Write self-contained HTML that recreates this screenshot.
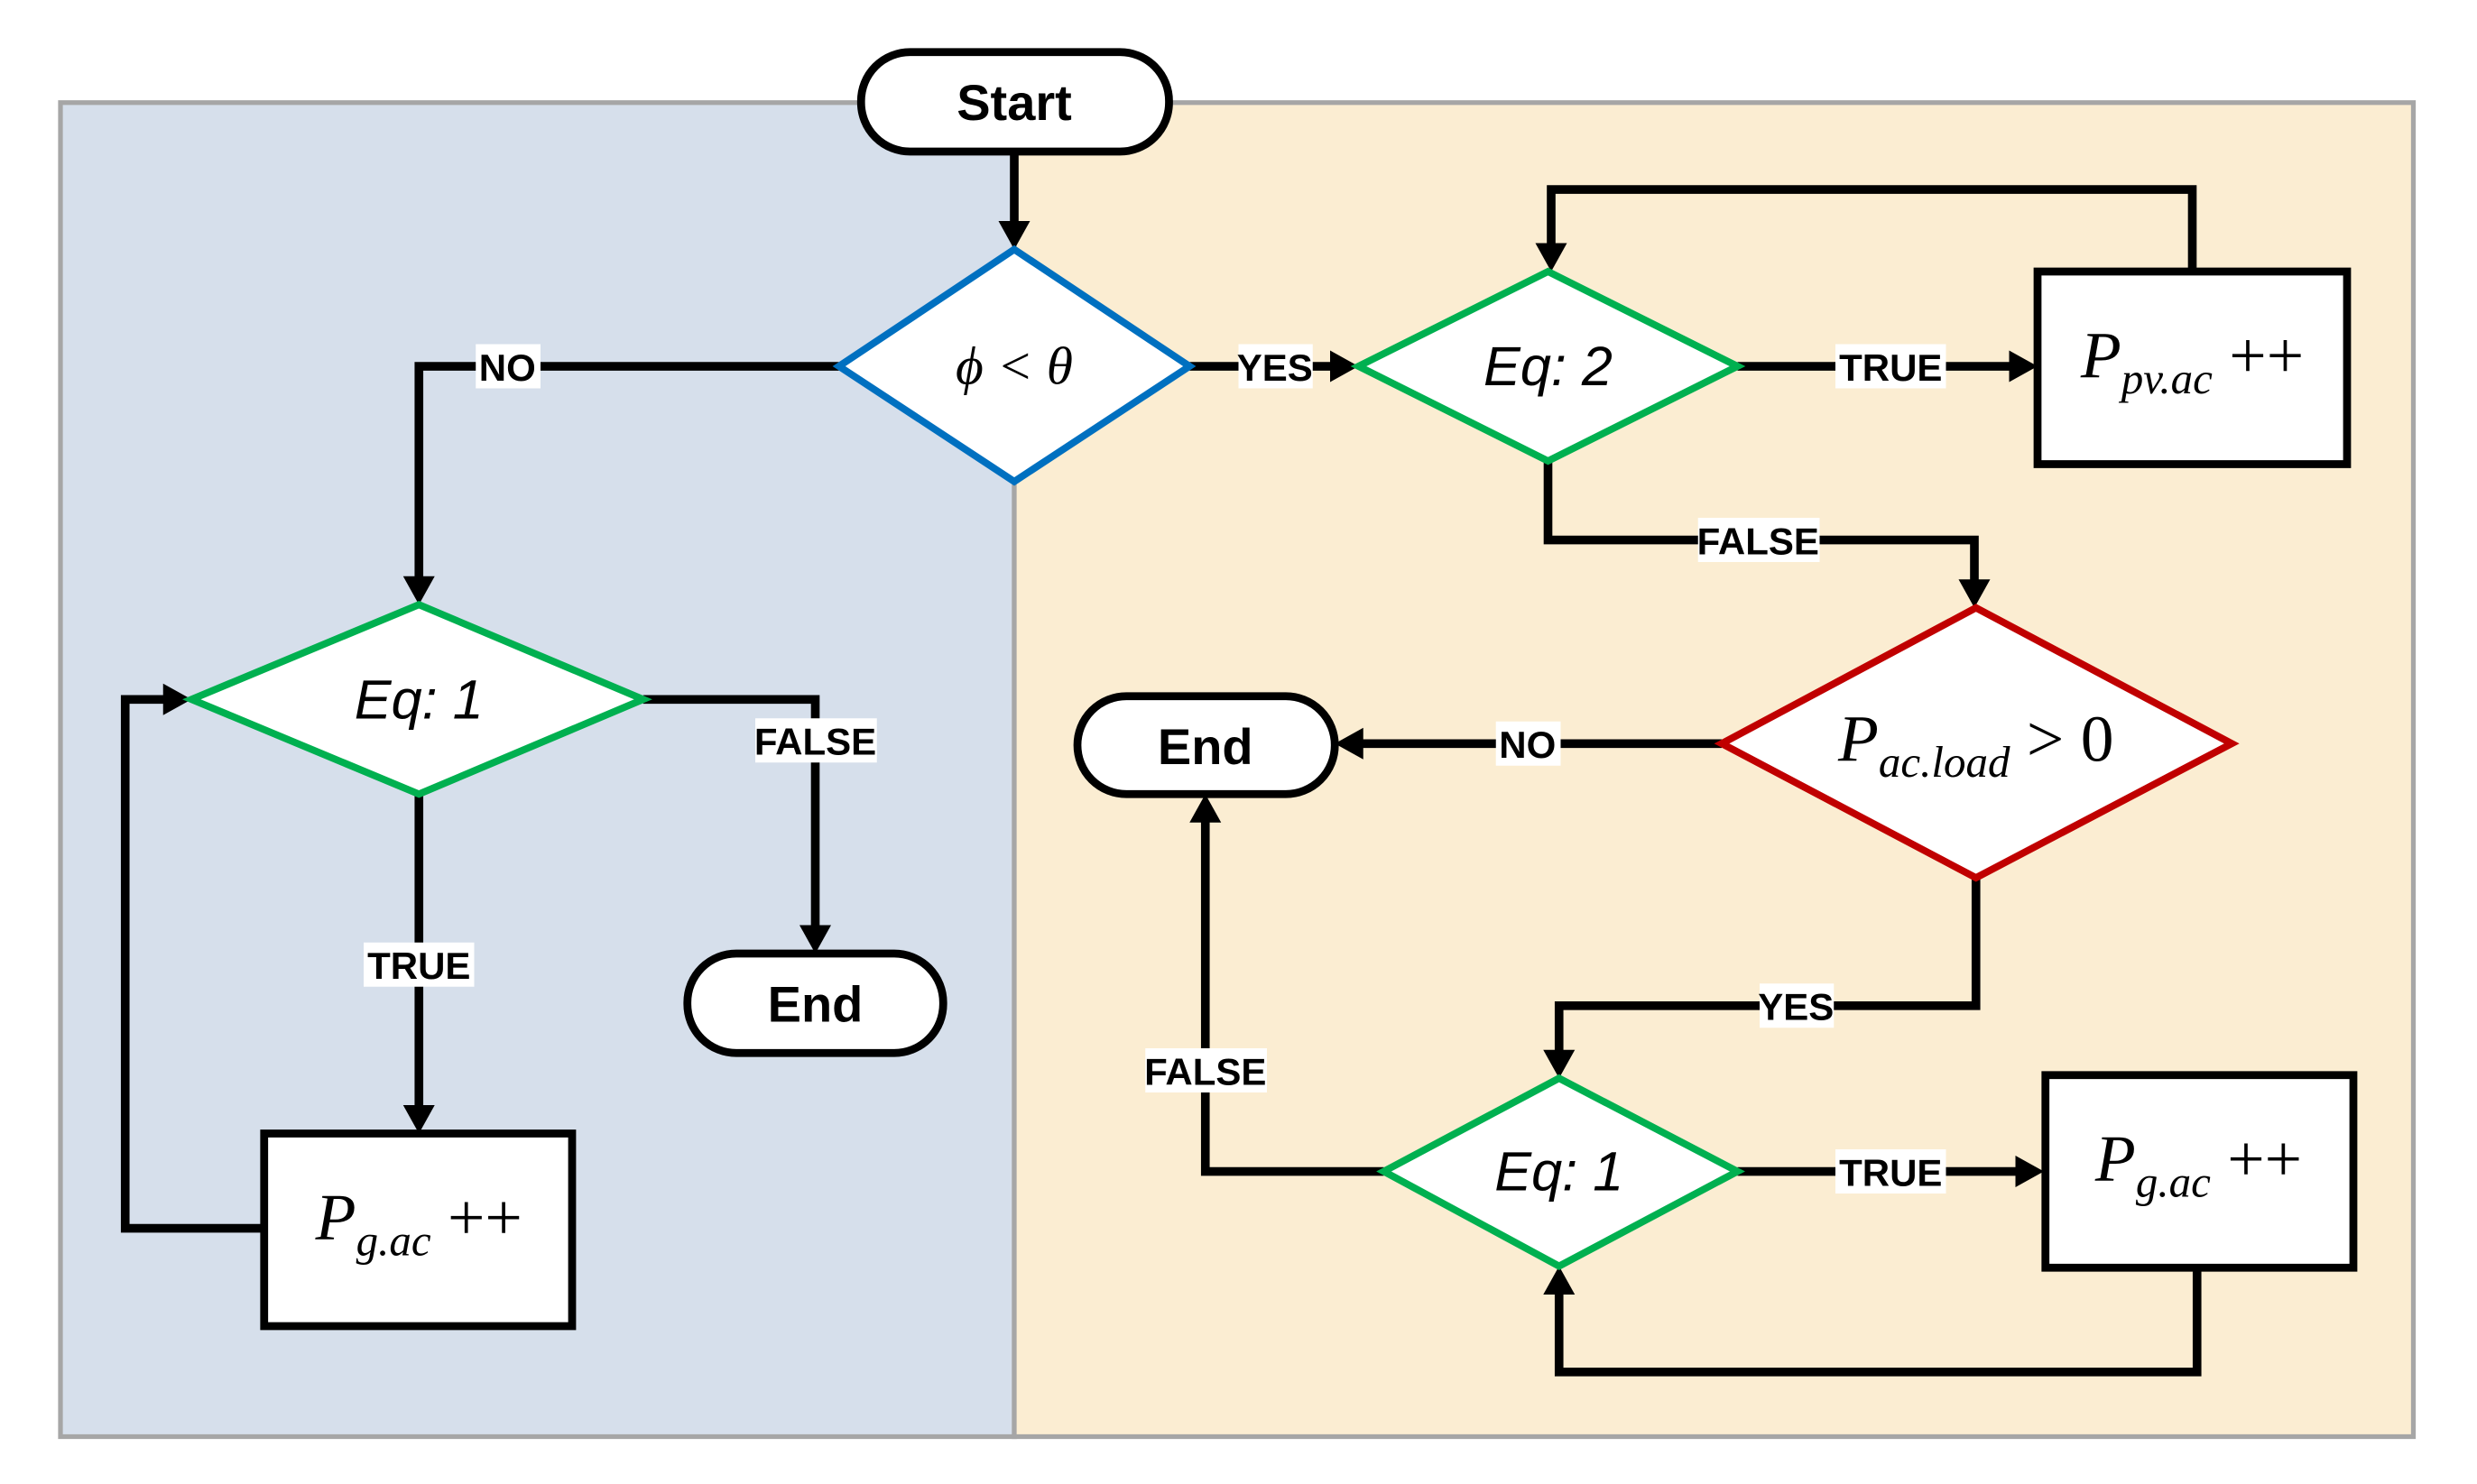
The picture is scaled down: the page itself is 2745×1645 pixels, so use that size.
<!DOCTYPE html>
<html><head><meta charset="utf-8"><style>
html,body{margin:0;padding:0;background:#fff;}
svg{display:block;}
.lbl{font-family:"Liberation Sans",sans-serif;font-weight:bold;font-size:24px;fill:#000;}
.term{font-family:"Liberation Sans",sans-serif;font-weight:bold;font-size:32px;fill:#000;}
.math{font-family:"Liberation Serif",serif;font-style:italic;fill:#000;}
</style></head><body>
<svg width="2745" height="1645" viewBox="0 0 1568 940" xmlns="http://www.w3.org/2000/svg">
<rect x="38" y="65" width="604" height="845" fill="#d6dfeb" stroke="#a6a6a6" stroke-width="3"/>
<rect x="642" y="65" width="886" height="845" fill="#fbedd2" stroke="#a6a6a6" stroke-width="3"/>

<g fill="none" stroke="#000" stroke-width="5.5">
<path d="M642 96 V142"/>
<path d="M531 232 H265 V367"/>
<path d="M753 232 H844"/>
<path d="M1100 232 H1274"/>
<path d="M1388 172 V120 H982 V156"/>
<path d="M980 292 V342 H1250 V369"/>
<path d="M1090 471 H861"/>
<path d="M1251 556 V637 H987 V667"/>
<path d="M1100 742 H1278"/>
<path d="M1391 803 V869 H987 V818"/>
<path d="M876 742 H763 V519"/>
<path d="M407 443 H516 V588"/>
<path d="M265 503 V702"/>
<path d="M167 778 H79 V443 H105"/>
</g>
<g fill="#000">
<polygon points="632,140 652,140 642,158"/>
<polygon points="255,365 275,365 265,383"/>
<polygon points="842,222 842,242 860,232"/>
<polygon points="1272,222 1272,242 1290,232"/>
<polygon points="972,154 992,154 982,172"/>
<polygon points="1240,367 1260,367 1250,385"/>
<polygon points="863,461 863,481 845,471"/>
<polygon points="977,665 997,665 987,683"/>
<polygon points="1276,732 1276,752 1294,742"/>
<polygon points="977,820 997,820 987,802"/>
<polygon points="753,521 773,521 763,503"/>
<polygon points="506,586 526,586 516,604"/>
<polygon points="255,700 275,700 265,718"/>
<polygon points="103,433 103,453 121,443"/>
</g>

<rect x="545" y="33" width="195" height="63" rx="31" fill="#fff" stroke="#000" stroke-width="5"/>
<text x="642" y="76" text-anchor="middle" class="term">Start</text>
<rect x="682" y="441" width="163" height="62" rx="31" fill="#fff" stroke="#000" stroke-width="5"/>
<text x="763" y="484" text-anchor="middle" class="term">End</text>
<rect x="435" y="604" width="162" height="63" rx="31" fill="#fff" stroke="#000" stroke-width="5"/>
<text x="516" y="647" text-anchor="middle" class="term">End</text>

<polygon points="642,158 753,232 642,305 531,232" fill="#fff" stroke="#0070c0" stroke-width="4.5"/>
<text x="642" y="243" text-anchor="middle" class="math" font-size="34">ϕ &lt; θ</text>
<polygon points="980,172 1100,232 980,292 860,232" fill="#fff" stroke="#00b050" stroke-width="4.5"/>
<text x="980" y="244" text-anchor="middle" font-family="Liberation Sans,sans-serif" font-style="italic" font-size="35">Eq: 2</text>
<polygon points="1251,385 1413,471 1251,556 1090,471" fill="#fff" stroke="#c00000" stroke-width="4.5"/>
<text x="1251" y="482" text-anchor="middle" class="math" font-size="42">P<tspan font-size="28" dy="10">ac.load</tspan><tspan dy="-10" font-style="normal"> &gt; 0</tspan></text>
<polygon points="987,683 1100,742 987,802 876,742" fill="#fff" stroke="#00b050" stroke-width="4.5"/>
<text x="987" y="754" text-anchor="middle" font-family="Liberation Sans,sans-serif" font-style="italic" font-size="35">Eq: 1</text>
<polygon points="265,383 407,443 265,503 121,443" fill="#fff" stroke="#00b050" stroke-width="4.5"/>
<text x="265" y="455" text-anchor="middle" font-family="Liberation Sans,sans-serif" font-style="italic" font-size="35">Eq: 1</text>

<rect x="1290" y="172" width="196" height="122" fill="#fff" stroke="#000" stroke-width="5"/>
<text x="1388" y="239" text-anchor="middle" class="math" font-size="42">P<tspan font-size="28" dy="10">pv.ac</tspan><tspan dy="-10" font-style="normal"> ++</tspan></text>
<rect x="1295" y="681" width="195" height="122" fill="#fff" stroke="#000" stroke-width="5"/>
<text x="1392" y="748" text-anchor="middle" class="math" font-size="42">P<tspan font-size="28" dy="10">g.ac</tspan><tspan dy="-10" font-style="normal"> ++</tspan></text>
<rect x="167" y="718" width="195" height="122" fill="#fff" stroke="#000" stroke-width="5"/>
<text x="265" y="785" text-anchor="middle" class="math" font-size="42">P<tspan font-size="28" dy="10">g.ac</tspan><tspan dy="-10" font-style="normal"> ++</tspan></text>

<g>
<rect x="301" y="218" width="41" height="28" fill="#fff"/><text x="321" y="241" text-anchor="middle" class="lbl">NO</text>
<rect x="784" y="218" width="47" height="28" fill="#fff"/><text x="807" y="241" text-anchor="middle" class="lbl">YES</text>
<rect x="1162" y="218" width="70" height="28" fill="#fff"/><text x="1197" y="241" text-anchor="middle" class="lbl">TRUE</text>
<rect x="1075" y="328" width="77" height="28" fill="#fff"/><text x="1113" y="351" text-anchor="middle" class="lbl">FALSE</text>
<rect x="947" y="457" width="41" height="28" fill="#fff"/><text x="967" y="480" text-anchor="middle" class="lbl">NO</text>
<rect x="1114" y="623" width="47" height="28" fill="#fff"/><text x="1137" y="646" text-anchor="middle" class="lbl">YES</text>
<rect x="1162" y="728" width="70" height="28" fill="#fff"/><text x="1197" y="751" text-anchor="middle" class="lbl">TRUE</text>
<rect x="725" y="664" width="77" height="28" fill="#fff"/><text x="763" y="687" text-anchor="middle" class="lbl">FALSE</text>
<rect x="478" y="455" width="77" height="28" fill="#fff"/><text x="516" y="478" text-anchor="middle" class="lbl">FALSE</text>
<rect x="230" y="597" width="70" height="28" fill="#fff"/><text x="265" y="620" text-anchor="middle" class="lbl">TRUE</text>
</g>
</svg>
</body></html>
